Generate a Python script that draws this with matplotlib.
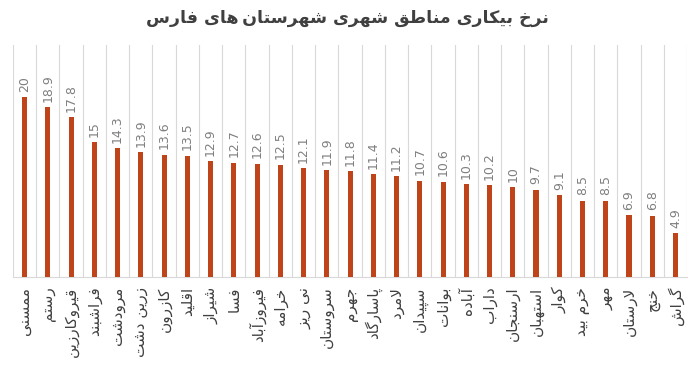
import matplotlib
matplotlib.use('Agg')
import matplotlib.pyplot as plt
import numpy as np

# Data
title = 'نرخ بیکاری مناطق شهری شهرستان\u200cهای فارس'
labels = ['ممسنی', 'رستم', 'قیروکارزین', 'فراشبند', 'مرودشت', 'زرین دشت',
          'کازرون', 'اقلید', 'شیراز', 'فسا', 'فیروزآباد', 'خرامه', 'نی ریز',
          'سروستان', 'جهرم', 'پاسارگاد', 'لامرد', 'سپیدان', 'بوانات', 'آباده',
          'داراب', 'ارسنجان', 'استهبان', 'کوار', 'خرم بید', 'مهر', 'لارستان',
          'خنج', 'گراش']
values = [20, 18.9, 17.8, 15, 14.3, 13.9, 13.6, 13.5, 12.9, 12.7, 12.6, 12.5,
          12.1, 11.9, 11.8, 11.4, 11.2, 10.7, 10.6, 10.3, 10.2, 10, 9.7, 9.1,
          8.5, 8.5, 6.9, 6.8, 4.9]

# Arabic letter forms: isolated, final, initial, medial
FORMS = {
    'ا': ('\uFE8D', '\uFE8E', None, None),
    'آ': ('\uFE81', '\uFE82', None, None),
    'ب': ('\uFE8F', '\uFE90', '\uFE91', '\uFE92'),
    'پ': ('\uFB56', '\uFB57', '\uFB58', '\uFB59'),
    'ت': ('\uFE95', '\uFE96', '\uFE97', '\uFE98'),
    'ج': ('\uFE9D', '\uFE9E', '\uFE9F', '\uFEA0'),
    'خ': ('\uFEA5', '\uFEA6', '\uFEA7', '\uFEA8'),
    'د': ('\uFEA9', '\uFEAA', None, None),
    'ر': ('\uFEAD', '\uFEAE', None, None),
    'ز': ('\uFEAF', '\uFEB0', None, None),
    'س': ('\uFEB1', '\uFEB2', '\uFEB3', '\uFEB4'),
    'ش': ('\uFEB5', '\uFEB6', '\uFEB7', '\uFEB8'),
    'ط': ('\uFEC1', '\uFEC2', '\uFEC3', '\uFEC4'),
    'ف': ('\uFED1', '\uFED2', '\uFED3', '\uFED4'),
    'ق': ('\uFED5', '\uFED6', '\uFED7', '\uFED8'),
    'ک': ('\uFB8E', '\uFB8F', '\uFB90', '\uFB91'),
    'گ': ('\uFB92', '\uFB93', '\uFB94', '\uFB95'),
    'ل': ('\uFEDD', '\uFEDE', '\uFEDF', '\uFEE0'),
    'م': ('\uFEE1', '\uFEE2', '\uFEE3', '\uFEE4'),
    'ن': ('\uFEE5', '\uFEE6', '\uFEE7', '\uFEE8'),
    'ه': ('\uFEE9', '\uFEEA', '\uFEEB', '\uFEEC'),
    'و': ('\uFEED', '\uFEEE', None, None),
    'ی': ('\uFBFC', '\uFBFD', '\uFBFE', '\uFBFF'),
}
LAM_ALEF = {'ا': ('\uFEFB', '\uFEFC'), 'آ': ('\uFEF5', '\uFEF6')}


def shape(text):
    # join letters into presentation forms, then reverse for right-to-left
    out = []
    i = 0
    while i < len(text):
        c = text[i]
        prev = text[i - 1] if i > 0 else None
        nxt = text[i + 1] if i + 1 < len(text) else None
        join_prev = prev in FORMS and FORMS[prev][2] is not None
        if c not in FORMS:
            out.append('\u2009' if c == '\u200c' else c)
            i += 1
            continue
        if c == 'ل' and nxt in LAM_ALEF:
            out.append(LAM_ALEF[nxt][1 if join_prev else 0])
            i += 2
            continue
        join_next = nxt in FORMS and FORMS[c][2] is not None
        f = FORMS[c]
        if join_prev and join_next:
            out.append(f[3])
        elif join_prev:
            out.append(f[1])
        elif join_next:
            out.append(f[2])
        else:
            out.append(f[0])
        i += 1
    return ''.join(out)[::-1]


plt.rcParams['font.family'] = ['DejaVu Sans']

fig = plt.figure(figsize=(6.95, 3.75), dpi=100)
ax = fig.add_axes([0.0187, 0.2613, 0.97, 0.6187])

x = np.arange(len(values))
ax.bar(x, values, width=0.22, color='#C0441A', zorder=3)

for xi, v in zip(x, values):
    ax.text(xi, v + 0.6, f'{v:g}', rotation=90, ha='center', va='bottom',
            fontsize=9, color='#7F7F7F')

ax.set_xlim(-0.5, len(values) - 0.5)
ax.set_ylim(0, 25.8)
ax.set_xticks(x)
ax.set_xticklabels([shape(l) for l in labels], rotation=90, fontsize=11,
                   color='#404040')
ax.set_xticks(np.arange(-0.5, len(values)), minor=True)
ax.grid(which='minor', axis='x', color='#D9D9D9', linewidth=0.8, zorder=0)
ax.tick_params(axis='x', which='both', length=0, pad=7)
ax.set_yticks([])
for s in ['top', 'left', 'right']:
    ax.spines[s].set_visible(False)
ax.spines['bottom'].set_color('#D9D9D9')

fig.text(0.5, 0.952, shape(title), ha='center', va='center', fontsize=12.5,
         fontweight='bold', color='#404040')

fig.savefig('out.png', dpi=100)
